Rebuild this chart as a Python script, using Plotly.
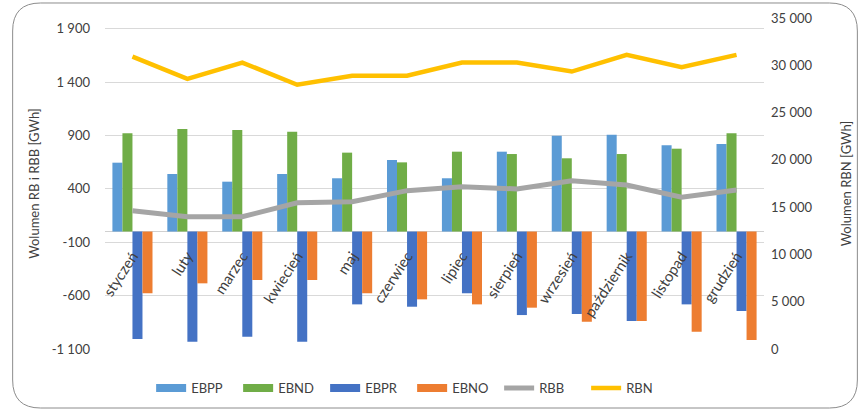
import plotly.graph_objects as go

months = ["styczeń", "luty", "marzec", "kwiecień", "maj", "czerwiec",
          "lipiec", "sierpień", "wrzesień", "październik", "listopad", "grudzień"]

EBPP = [645, 539, 467, 539, 499, 670, 499, 748, 898, 907, 808, 820]
EBND = [920, 960, 951, 935, 739, 648, 748, 726, 686, 726, 776, 920]
EBPR = [-1006, -1032, -985, -1032, -682, -704, -578, -782, -772, -838, -682, -744]
EBNO = [-578, -485, -454, -454, -578, -635, -682, -713, -844, -838, -938, -1016]
RBB = [195, 139, 139, 270, 280, 383, 420, 399, 476, 436, 321, 389]
RBN = [30920, 28570, 30290, 27940, 28890, 28890, 30290, 30290, 29340, 31100, 29800, 31100]

left_ticks = [-1100, -600, -100, 400, 900, 1400, 1900]
right_ticks = [0, 5000, 10000, 15000, 20000, 25000, 30000, 35000]


def fmt(v):
    return f"{v:,}".replace(",", " ")


left_labels = [fmt(v) for v in left_ticks]
right_labels = [fmt(v) for v in right_ticks]

FONT = "Lato"
TXT = "#404040"

W, H = 860, 411
L, R, T, B = 104.5, 95.5, 18, 62
PW, PH = W - L - R, H - T - B
Y_MIN, Y_MAX = -1100, 2000

bar_series = [("EBPP", EBPP, "#5B9BD5"), ("EBND", EBND, "#70AD47"),
              ("EBPR", EBPR, "#4472C4"), ("EBNO", EBNO, "#ED7D31")]

fig = go.Figure()
for name, vals, col in bar_series:
    fig.add_trace(go.Bar(x=months, y=vals, name=name, legendgroup=name, showlegend=False,
                         marker=dict(color=col, line=dict(width=0))))
# legend proxies drawn as wide rectangles (Excel style)
for name, vals, col in bar_series:
    fig.add_trace(go.Scatter(x=[None], y=[None], name=name, legendgroup=name, mode="lines",
                             line=dict(color=col, width=8), hoverinfo="skip"))
fig.add_trace(go.Scatter(x=months, y=RBB, name="RBB", mode="lines",
                         line=dict(color="#A5A5A5", width=5)))
fig.add_trace(go.Scatter(x=months, y=RBN, name="RBN", mode="lines", yaxis="y2",
                         line=dict(color="#FFC000", width=4.5)))


def px(X, Y):
    return (X - L) / PW, (H - B - Y) / PH


def P(X, Y):
    a, b = px(X, Y)
    return f"{a:.5f},{b:.5f}"


# rounded chart border
x0, y0, x1, y1, r = 12, 3, 858, 408, 28
path = (f"M {P(x0 + r, y0)} L {P(x1 - r, y0)} Q {P(x1, y0)} {P(x1, y0 + r)} "
        f"L {P(x1, y1 - r)} Q {P(x1, y1)} {P(x1 - r, y1)} "
        f"L {P(x0 + r, y1)} Q {P(x0, y1)} {P(x0, y1 - r)} "
        f"L {P(x0, y0 + r)} Q {P(x0, y0)} {P(x0 + r, y0)} Z")

fig.update_layout(
    width=W, height=H,
    margin=dict(l=L, r=R, t=T, b=B, autoexpand=False),
    paper_bgcolor="white", plot_bgcolor="white",
    font=dict(family=FONT, size=13, color=TXT),
    barmode="group", bargap=0.27, bargroupgap=0,
    showlegend=True,
    legend=dict(orientation="h", x=0.07, xanchor="left", y=-0.118, yanchor="middle",
                entrywidth=42, entrywidthmode="pixels", font=dict(size=13, color=TXT),
                bgcolor="rgba(0,0,0,0)", traceorder="normal"),
    xaxis=dict(anchor="free", position=(0 - Y_MIN) / (Y_MAX - Y_MIN),
               showgrid=False, showline=False, ticks="", tickangle=-57,
               tickfont=dict(size=15, color=TXT), ticklabelstandoff=12),
    yaxis=dict(range=[Y_MIN, Y_MAX], tickvals=left_ticks, ticktext=left_labels,
               showgrid=True, gridcolor="#D9D9D9", gridwidth=1,
               zeroline=True, zerolinecolor="#D0D0D0", zerolinewidth=1.3,
               showline=False, ticks="", ticklabelstandoff=14,
               title=dict(text="Wolumen RB i RBB [GWh]", standoff=9, font=dict(size=13, color=TXT))),
    yaxis2=dict(range=[0, 35000], tickvals=right_ticks, ticktext=right_labels,
                overlaying="y", side="right", showgrid=False, zeroline=False,
                showline=False, ticks="", ticklabelstandoff=6,
                title=dict(text="Wolumen RBN [GWh]", standoff=30, font=dict(size=13, color=TXT))),
    shapes=[dict(type="path", xref="paper", yref="paper", path=path,
                 line=dict(color="#8C8C8C", width=1), fillcolor="rgba(0,0,0,0)", layer="below")],
)

fig.write_html("out.html")
